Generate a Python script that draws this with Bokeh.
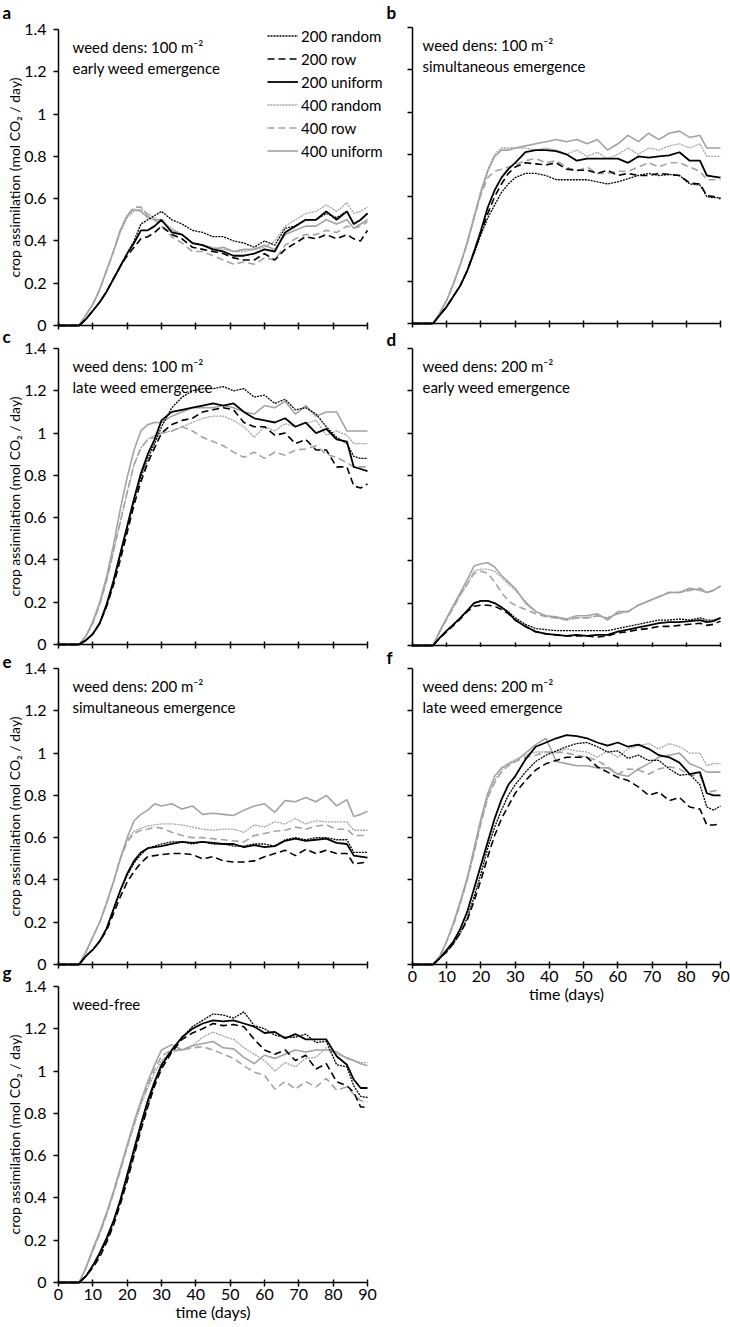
import math
from bokeh.plotting import figure
from bokeh.models import Range1d, FixedTicker, Label, Legend, LegendItem
from bokeh.layouts import column, row
from bokeh.embed import file_html
from bokeh.resources import INLINE

# ---------------- data ----------------
DAYS = [0, 6, 8, 10, 12, 14, 16, 18, 20, 22, 24, 26, 28, 30, 33, 36, 39, 42, 45,
        48, 51, 54, 57, 60, 63, 66, 69, 72, 75, 78, 81, 84, 86, 88, 90]
SERIES = ["200 random", "200 row", "200 uniform", "400 random", "400 row", "400 uniform"]
X_TICKS = [0, 10, 20, 30, 40, 50, 60, 70, 80, 90]
Y_TICKS = [0, 0.2, 0.4, 0.6, 0.8, 1, 1.2, 1.4]
Y_TICK_LABELS = ["0", "0.2", "0.4", "0.6", "0.8", "1", "1.2", "1.4"]

# a: weed dens 100, early weed emergence
A_200_RANDOM = [0, 0, 0.03, 0.07, 0.11, 0.16, 0.22, 0.28, 0.34, 0.40, 0.48, 0.50, 0.52, 0.54, 0.50, 0.48, 0.45, 0.44, 0.42, 0.42, 0.40, 0.39, 0.37, 0.40, 0.38, 0.46, 0.47, 0.50, 0.50, 0.53, 0.51, 0.54, 0.48, 0.50, 0.53]
A_200_ROW = [0, 0, 0.03, 0.07, 0.11, 0.16, 0.22, 0.28, 0.33, 0.37, 0.41, 0.42, 0.44, 0.47, 0.43, 0.41, 0.37, 0.36, 0.35, 0.34, 0.32, 0.31, 0.31, 0.34, 0.31, 0.36, 0.39, 0.42, 0.41, 0.43, 0.41, 0.43, 0.41, 0.40, 0.45]
A_200_UNIFORM = [0, 0, 0.03, 0.07, 0.11, 0.16, 0.22, 0.28, 0.34, 0.39, 0.45, 0.45, 0.47, 0.50, 0.44, 0.43, 0.39, 0.38, 0.36, 0.35, 0.33, 0.33, 0.34, 0.36, 0.35, 0.44, 0.47, 0.50, 0.50, 0.54, 0.50, 0.54, 0.48, 0.50, 0.53]
A_400_RANDOM = [0, 0, 0.05, 0.10, 0.17, 0.26, 0.35, 0.44, 0.51, 0.54, 0.55, 0.53, 0.51, 0.49, 0.46, 0.43, 0.39, 0.38, 0.37, 0.36, 0.35, 0.35, 0.36, 0.37, 0.40, 0.47, 0.50, 0.53, 0.54, 0.57, 0.54, 0.58, 0.53, 0.54, 0.56]
A_400_ROW = [0, 0, 0.05, 0.10, 0.17, 0.26, 0.35, 0.45, 0.52, 0.56, 0.56, 0.52, 0.50, 0.47, 0.42, 0.39, 0.35, 0.35, 0.33, 0.31, 0.29, 0.30, 0.29, 0.32, 0.31, 0.38, 0.41, 0.43, 0.43, 0.45, 0.44, 0.47, 0.46, 0.47, 0.49]
A_400_UNIFORM = [0, 0, 0.05, 0.10, 0.17, 0.26, 0.35, 0.45, 0.52, 0.55, 0.54, 0.51, 0.50, 0.50, 0.45, 0.43, 0.39, 0.38, 0.36, 0.37, 0.35, 0.36, 0.36, 0.38, 0.36, 0.43, 0.45, 0.47, 0.47, 0.50, 0.48, 0.50, 0.46, 0.48, 0.50]

# b: weed dens 100, simultaneous emergence
B_200_RANDOM = [0, 0, 0.04, 0.08, 0.13, 0.18, 0.25, 0.33, 0.42, 0.50, 0.56, 0.62, 0.66, 0.69, 0.71, 0.71, 0.70, 0.68, 0.68, 0.68, 0.68, 0.67, 0.66, 0.67, 0.685, 0.70, 0.71, 0.70, 0.705, 0.70, 0.66, 0.655, 0.60, 0.595, 0.595]
B_200_ROW = [0, 0, 0.04, 0.08, 0.13, 0.18, 0.25, 0.34, 0.43, 0.52, 0.60, 0.66, 0.71, 0.74, 0.76, 0.755, 0.75, 0.76, 0.73, 0.725, 0.725, 0.71, 0.725, 0.70, 0.71, 0.70, 0.70, 0.71, 0.705, 0.70, 0.665, 0.66, 0.605, 0.60, 0.59]
B_200_UNIFORM = [0, 0, 0.04, 0.08, 0.13, 0.18, 0.25, 0.34, 0.44, 0.55, 0.63, 0.69, 0.73, 0.76, 0.81, 0.82, 0.82, 0.815, 0.80, 0.77, 0.78, 0.78, 0.78, 0.78, 0.76, 0.79, 0.785, 0.79, 0.795, 0.81, 0.77, 0.77, 0.70, 0.695, 0.69]
B_400_RANDOM = [0, 0, 0.05, 0.11, 0.19, 0.28, 0.39, 0.51, 0.63, 0.73, 0.80, 0.83, 0.83, 0.83, 0.83, 0.82, 0.83, 0.82, 0.80, 0.82, 0.79, 0.81, 0.78, 0.80, 0.83, 0.80, 0.83, 0.82, 0.84, 0.85, 0.83, 0.85, 0.79, 0.79, 0.79]
B_400_ROW = [0, 0, 0.05, 0.11, 0.19, 0.28, 0.38, 0.50, 0.61, 0.69, 0.72, 0.73, 0.74, 0.75, 0.77, 0.78, 0.76, 0.77, 0.74, 0.72, 0.74, 0.71, 0.71, 0.72, 0.72, 0.74, 0.76, 0.74, 0.76, 0.76, 0.74, 0.72, 0.68, 0.68, 0.68]
B_400_UNIFORM = [0, 0, 0.05, 0.11, 0.19, 0.28, 0.38, 0.50, 0.62, 0.72, 0.79, 0.82, 0.82, 0.83, 0.84, 0.85, 0.86, 0.87, 0.86, 0.87, 0.85, 0.87, 0.82, 0.85, 0.89, 0.86, 0.90, 0.87, 0.90, 0.91, 0.88, 0.89, 0.83, 0.83, 0.83]

# c: weed dens 100, late weed emergence
C_200_RANDOM = [0, 0, 0.02, 0.05, 0.10, 0.18, 0.29, 0.42, 0.55, 0.68, 0.79, 0.88, 0.95, 1.03, 1.12, 1.17, 1.20, 1.21, 1.21, 1.22, 1.20, 1.21, 1.17, 1.18, 1.14, 1.16, 1.11, 1.12, 1.09, 1.03, 0.98, 0.95, 0.89, 0.88, 0.88]
C_200_ROW = [0, 0, 0.02, 0.05, 0.10, 0.18, 0.28, 0.40, 0.53, 0.66, 0.77, 0.86, 0.93, 1.00, 1.04, 1.06, 1.07, 1.10, 1.11, 1.12, 1.11, 1.05, 1.03, 1.03, 0.99, 1.00, 0.95, 0.97, 0.92, 0.92, 0.84, 0.84, 0.75, 0.74, 0.76]
C_200_UNIFORM = [0, 0, 0.02, 0.05, 0.10, 0.19, 0.30, 0.43, 0.56, 0.69, 0.81, 0.90, 0.97, 1.06, 1.10, 1.11, 1.12, 1.13, 1.14, 1.13, 1.14, 1.10, 1.07, 1.06, 1.05, 1.07, 1.03, 1.05, 1.00, 1.02, 0.97, 0.96, 0.84, 0.83, 0.82]
C_400_RANDOM = [0, 0, 0.04, 0.10, 0.19, 0.30, 0.44, 0.58, 0.72, 0.85, 0.93, 0.97, 0.99, 1.00, 1.01, 1.03, 1.05, 1.07, 1.08, 1.08, 1.06, 1.03, 0.98, 1.03, 1.01, 1.045, 1.03, 1.045, 1.06, 0.99, 1.01, 0.99, 0.95, 0.95, 0.95]
C_400_ROW = [0, 0, 0.04, 0.10, 0.19, 0.30, 0.44, 0.58, 0.72, 0.85, 0.93, 0.97, 0.98, 1.00, 1.01, 1.03, 1.01, 0.98, 0.96, 0.94, 0.91, 0.885, 0.91, 0.88, 0.91, 0.895, 0.92, 0.925, 0.94, 0.90, 0.885, 0.86, 0.84, 0.84, 0.84]
C_400_UNIFORM = [0, 0, 0.04, 0.11, 0.20, 0.32, 0.47, 0.64, 0.79, 0.92, 1.01, 1.04, 1.05, 1.05, 1.08, 1.10, 1.12, 1.12, 1.12, 1.13, 1.12, 1.10, 1.09, 1.13, 1.12, 1.15, 1.09, 1.13, 1.08, 1.10, 1.10, 1.01, 1.01, 1.01, 1.01]

# d: weed dens 200, early weed emergence
D_200_RANDOM = [0, 0, 0.037, 0.07, 0.10, 0.13, 0.165, 0.20, 0.21, 0.21, 0.20, 0.18, 0.16, 0.13, 0.10, 0.08, 0.075, 0.07, 0.07, 0.07, 0.07, 0.07, 0.07, 0.08, 0.09, 0.10, 0.11, 0.12, 0.12, 0.125, 0.12, 0.13, 0.12, 0.12, 0.13]
D_200_ROW = [0, 0, 0.035, 0.065, 0.095, 0.125, 0.16, 0.185, 0.19, 0.19, 0.185, 0.17, 0.15, 0.12, 0.09, 0.065, 0.055, 0.05, 0.045, 0.045, 0.045, 0.04, 0.045, 0.06, 0.065, 0.075, 0.08, 0.09, 0.09, 0.095, 0.10, 0.105, 0.095, 0.10, 0.115]
D_200_UNIFORM = [0, 0, 0.037, 0.07, 0.10, 0.13, 0.165, 0.20, 0.21, 0.21, 0.20, 0.18, 0.155, 0.12, 0.09, 0.065, 0.055, 0.05, 0.045, 0.05, 0.045, 0.05, 0.05, 0.065, 0.075, 0.085, 0.095, 0.105, 0.11, 0.11, 0.115, 0.12, 0.11, 0.115, 0.13]
D_400_RANDOM = [0, 0, 0.065, 0.125, 0.18, 0.24, 0.29, 0.35, 0.36, 0.36, 0.35, 0.32, 0.29, 0.26, 0.21, 0.16, 0.14, 0.13, 0.12, 0.13, 0.13, 0.14, 0.13, 0.15, 0.16, 0.19, 0.21, 0.23, 0.25, 0.25, 0.26, 0.27, 0.25, 0.26, 0.28]
D_400_ROW = [0, 0, 0.065, 0.125, 0.18, 0.24, 0.29, 0.34, 0.35, 0.34, 0.30, 0.25, 0.21, 0.19, 0.17, 0.15, 0.135, 0.13, 0.12, 0.13, 0.13, 0.14, 0.13, 0.15, 0.16, 0.19, 0.21, 0.23, 0.25, 0.25, 0.26, 0.27, 0.25, 0.26, 0.28]
D_400_UNIFORM = [0, 0, 0.07, 0.13, 0.19, 0.25, 0.31, 0.375, 0.385, 0.39, 0.37, 0.33, 0.30, 0.27, 0.20, 0.16, 0.14, 0.135, 0.125, 0.14, 0.14, 0.15, 0.12, 0.16, 0.16, 0.19, 0.21, 0.23, 0.25, 0.25, 0.27, 0.26, 0.25, 0.26, 0.28]

# e: weed dens 200, simultaneous emergence
E_200_RANDOM = [0, 0, 0.04, 0.07, 0.11, 0.17, 0.26, 0.35, 0.42, 0.48, 0.52, 0.55, 0.56, 0.57, 0.58, 0.58, 0.57, 0.58, 0.57, 0.57, 0.56, 0.56, 0.57, 0.57, 0.56, 0.59, 0.60, 0.59, 0.60, 0.60, 0.59, 0.59, 0.53, 0.53, 0.53]
E_200_ROW = [0, 0, 0.04, 0.07, 0.11, 0.16, 0.24, 0.32, 0.39, 0.44, 0.48, 0.51, 0.515, 0.52, 0.525, 0.525, 0.52, 0.50, 0.51, 0.49, 0.485, 0.485, 0.49, 0.51, 0.525, 0.54, 0.515, 0.545, 0.525, 0.54, 0.525, 0.525, 0.475, 0.48, 0.485]
E_200_UNIFORM = [0, 0, 0.04, 0.07, 0.11, 0.17, 0.26, 0.35, 0.43, 0.49, 0.53, 0.55, 0.555, 0.56, 0.57, 0.58, 0.575, 0.58, 0.575, 0.57, 0.57, 0.555, 0.565, 0.555, 0.56, 0.585, 0.595, 0.585, 0.59, 0.595, 0.575, 0.57, 0.515, 0.51, 0.505]
E_400_RANDOM = [0, 0, 0.06, 0.13, 0.20, 0.29, 0.39, 0.50, 0.59, 0.63, 0.645, 0.655, 0.66, 0.665, 0.665, 0.66, 0.65, 0.64, 0.635, 0.64, 0.64, 0.625, 0.66, 0.65, 0.675, 0.665, 0.69, 0.665, 0.68, 0.675, 0.675, 0.675, 0.635, 0.635, 0.635]
E_400_ROW = [0, 0, 0.06, 0.13, 0.20, 0.29, 0.39, 0.50, 0.58, 0.62, 0.635, 0.64, 0.65, 0.645, 0.625, 0.61, 0.60, 0.60, 0.595, 0.59, 0.585, 0.58, 0.61, 0.62, 0.63, 0.635, 0.65, 0.64, 0.655, 0.66, 0.64, 0.64, 0.61, 0.61, 0.61]
E_400_UNIFORM = [0, 0, 0.06, 0.13, 0.20, 0.29, 0.39, 0.50, 0.60, 0.68, 0.71, 0.73, 0.76, 0.75, 0.76, 0.735, 0.75, 0.71, 0.715, 0.71, 0.705, 0.73, 0.75, 0.76, 0.72, 0.775, 0.77, 0.79, 0.77, 0.80, 0.75, 0.78, 0.70, 0.71, 0.725]

# f: weed dens 200, late weed emergence
F_200_RANDOM = [0, 0, 0.03, 0.06, 0.10, 0.15, 0.22, 0.32, 0.43, 0.55, 0.65, 0.73, 0.80, 0.85, 0.91, 0.96, 0.99, 1.01, 1.03, 1.045, 1.05, 1.03, 1.005, 1.01, 0.975, 0.99, 0.965, 0.965, 0.925, 0.895, 0.90, 0.85, 0.745, 0.73, 0.75]
F_200_ROW = [0, 0, 0.03, 0.06, 0.10, 0.15, 0.21, 0.30, 0.40, 0.51, 0.61, 0.69, 0.75, 0.81, 0.87, 0.92, 0.95, 0.965, 0.98, 0.98, 0.98, 0.935, 0.91, 0.885, 0.87, 0.84, 0.80, 0.815, 0.775, 0.79, 0.745, 0.735, 0.66, 0.66, 0.665]
F_200_UNIFORM = [0, 0, 0.03, 0.07, 0.11, 0.17, 0.25, 0.36, 0.47, 0.58, 0.69, 0.78, 0.85, 0.89, 0.97, 1.03, 1.05, 1.07, 1.085, 1.08, 1.07, 1.05, 1.035, 1.05, 1.03, 1.04, 1.02, 0.99, 0.98, 0.955, 0.90, 0.91, 0.81, 0.80, 0.80]
F_400_RANDOM = [0, 0, 0.04, 0.11, 0.19, 0.29, 0.40, 0.53, 0.67, 0.79, 0.87, 0.92, 0.95, 0.97, 0.99, 1.005, 1.005, 1.0, 1.02, 1.01, 1.005, 0.98, 1.01, 0.98, 1.02, 1.035, 1.045, 1.02, 1.045, 1.03, 1.0, 1.0, 0.94, 0.95, 0.95]
F_400_ROW = [0, 0, 0.04, 0.11, 0.19, 0.29, 0.40, 0.53, 0.67, 0.79, 0.86, 0.91, 0.94, 0.96, 0.98, 0.99, 1.005, 1.005, 1.0, 0.99, 0.98, 0.965, 0.935, 0.90, 0.925, 0.92, 0.90, 0.925, 0.935, 0.925, 0.895, 0.895, 0.815, 0.82, 0.83]
F_400_UNIFORM = [0, 0, 0.04, 0.11, 0.20, 0.30, 0.41, 0.55, 0.69, 0.81, 0.89, 0.93, 0.95, 0.96, 1.0, 1.04, 1.07, 0.96, 0.95, 0.94, 0.94, 0.93, 0.93, 0.90, 0.89, 0.925, 0.95, 0.98, 0.99, 1.0, 0.95, 0.93, 0.91, 0.91, 0.91]

# g: weed-free
G_200_RANDOM = [0, 0, 0.03, 0.08, 0.13, 0.20, 0.28, 0.38, 0.49, 0.61, 0.73, 0.84, 0.94, 1.02, 1.10, 1.16, 1.21, 1.24, 1.27, 1.265, 1.25, 1.28, 1.215, 1.20, 1.17, 1.16, 1.16, 1.175, 1.135, 1.14, 1.03, 1.02, 0.93, 0.88, 0.875]
G_200_ROW = [0, 0, 0.03, 0.07, 0.12, 0.19, 0.27, 0.37, 0.48, 0.60, 0.72, 0.83, 0.93, 1.01, 1.09, 1.15, 1.18, 1.20, 1.225, 1.215, 1.22, 1.21, 1.15, 1.10, 1.08, 1.10, 1.05, 1.075, 1.01, 1.035, 0.95, 0.93, 0.90, 0.83, 0.83]
G_200_UNIFORM = [0, 0, 0.03, 0.08, 0.14, 0.21, 0.29, 0.39, 0.51, 0.63, 0.75, 0.86, 0.95, 1.03, 1.10, 1.16, 1.20, 1.225, 1.24, 1.235, 1.24, 1.225, 1.21, 1.18, 1.185, 1.155, 1.175, 1.15, 1.15, 1.15, 1.07, 1.03, 0.96, 0.92, 0.92]
G_400_RANDOM = [0, 0, 0.07, 0.15, 0.23, 0.32, 0.42, 0.53, 0.64, 0.74, 0.84, 0.92, 0.99, 1.05, 1.09, 1.10, 1.12, 1.16, 1.185, 1.165, 1.15, 1.11, 1.08, 1.05, 1.0, 1.04, 1.02, 1.06, 1.065, 1.11, 1.08, 1.065, 1.05, 1.04, 1.04]
G_400_ROW = [0, 0, 0.07, 0.15, 0.23, 0.32, 0.42, 0.53, 0.64, 0.75, 0.85, 0.93, 1.01, 1.07, 1.10, 1.10, 1.11, 1.115, 1.10, 1.08, 1.06, 1.025, 0.995, 0.98, 0.915, 0.95, 0.915, 0.95, 0.925, 0.965, 0.91, 0.925, 0.89, 0.86, 0.855]
G_400_UNIFORM = [0, 0, 0.07, 0.16, 0.24, 0.33, 0.43, 0.54, 0.65, 0.76, 0.86, 0.95, 1.03, 1.10, 1.125, 1.10, 1.12, 1.13, 1.14, 1.11, 1.105, 1.065, 1.035, 1.075, 1.06, 1.08, 1.10, 1.09, 1.10, 1.10, 1.09, 1.06, 1.05, 1.035, 1.025]

PANELS = {
    "a": [A_200_RANDOM, A_200_ROW, A_200_UNIFORM, A_400_RANDOM, A_400_ROW, A_400_UNIFORM],
    "b": [B_200_RANDOM, B_200_ROW, B_200_UNIFORM, B_400_RANDOM, B_400_ROW, B_400_UNIFORM],
    "c": [C_200_RANDOM, C_200_ROW, C_200_UNIFORM, C_400_RANDOM, C_400_ROW, C_400_UNIFORM],
    "d": [D_200_RANDOM, D_200_ROW, D_200_UNIFORM, D_400_RANDOM, D_400_ROW, D_400_UNIFORM],
    "e": [E_200_RANDOM, E_200_ROW, E_200_UNIFORM, E_400_RANDOM, E_400_ROW, E_400_UNIFORM],
    "f": [F_200_RANDOM, F_200_ROW, F_200_UNIFORM, F_400_RANDOM, F_400_ROW, F_400_UNIFORM],
    "g": [G_200_RANDOM, G_200_ROW, G_200_UNIFORM, G_400_RANDOM, G_400_ROW, G_400_UNIFORM],
}
NOTES = {
    "a": ["weed dens: 100 m\u207b\u00b2", "early weed emergence"],
    "b": ["weed dens: 100 m\u207b\u00b2", "simultaneous emergence"],
    "c": ["weed dens: 100 m\u207b\u00b2", "late weed emergence"],
    "d": ["weed dens: 200 m\u207b\u00b2", "early weed emergence"],
    "e": ["weed dens: 200 m\u207b\u00b2", "simultaneous emergence"],
    "f": ["weed dens: 200 m\u207b\u00b2", "late weed emergence"],
    "g": ["weed-free"],
}
Y_TITLE = "crop assimilation (mol CO\u2082 / day)"
X_TITLE = "time (days)"

# ---------------- style / layout ----------------
FONT = "Lato"
GRAY = "#a3a3a3"
STYLE = [
    dict(line_color="black", line_dash="2 1", line_width=1.3),
    dict(line_color="black", line_dash="7 4", line_width=1.6),
    dict(line_color="black", line_dash="solid", line_width=1.8),
    dict(line_color=GRAY, line_dash="2 1", line_width=1.3),
    dict(line_color=GRAY, line_dash="7 4", line_width=1.6),
    dict(line_color=GRAY, line_dash="solid", line_width=1.6),
]

PAGE_H = 1327
SIDE_W = 23          # narrow strip with panel letters and y titles
LEFT = dict(x0=SIDE_W, x1=383, px0=58, px90=367)
RIGHT = dict(x0=383, x1=730, px0=412, px90=720)
ROWS = {
    "a": dict(y0=0, y1=336, py14=29, py0=325),
    "c": dict(y0=336, y1=656, py14=348, py0=644),
    "e": dict(y0=656, y1=975, py14=668, py0=964),
    "g": dict(y0=975, y1=PAGE_H, py14=986, py0=1282),
    "b": dict(y0=0, y1=328, py14=27, py0=323),
    "d": dict(y0=328, y1=647, py14=348, py0=645),
    "f": dict(y0=647, y1=1005, py14=668, py0=964),
}
SIDE_LETTERS = [("a", 2, 12), ("c", 2, 336), ("e", 2, 661), ("g", 2, 972)]
RIGHT_LETTERS = {"b": (386, 12), "d": (386, 339), "f": (386, 657)}
TICK_FONT = "16px"


def text_label(x, y, text, size, **kw):
    return Label(x=x, y=y, x_units="screen", y_units="screen", text=text,
                 text_font=FONT, text_font_size=size, text_color="black", **kw)


def make_panel(key, col, left_col, x_labels):
    g = dict(col)
    g.update(ROWS[key])
    x0, x1, y0, y1 = g["x0"], g["x1"], g["y0"], g["y1"]
    px0, px90, py14, py0 = g["px0"], g["px90"], g["py14"], g["py0"]
    kx = 90.0 / (px90 - px0)
    ky = 1.4 / (py0 - py14)
    xr = Range1d(-(px0 - x0) * kx, 90 + (x1 - px90) * kx)
    yr = Range1d(-(y1 - py0) * ky, 1.4 + (py14 - y0) * ky)
    p = figure(width=x1 - x0, height=y1 - y0, x_range=xr, y_range=yr,
               output_backend="svg", toolbar_location=None,
               min_border_left=0, min_border_right=0, min_border_top=0, min_border_bottom=0)
    p.xgrid.visible = False
    p.ygrid.visible = False
    p.outline_line_color = None
    p.background_fill_color = "white"
    p.border_fill_color = "white"

    def sx(x):
        return x - x0

    def sy(y):
        return y1 - y

    for ax in (p.xaxis[0], p.yaxis[0]):
        ax.fixed_location = 0
        ax.axis_line_color = "black"
        ax.axis_line_width = 1.5
        ax.major_tick_line_color = "black"
        ax.major_tick_line_width = 1.5
        ax.minor_tick_line_color = None
        ax.major_label_text_font = FONT
        ax.major_label_text_color = "black"
        ax.major_label_text_font_size = TICK_FONT

    xa = p.xaxis[0]
    xa.bounds = (0, 90)
    xa.ticker = FixedTicker(ticks=X_TICKS)
    xa.major_tick_in = 3
    xa.major_tick_out = 4
    xa.major_label_standoff = 2
    if not x_labels:
        xa.major_label_overrides = {t: "" for t in X_TICKS}

    ya = p.yaxis[0]
    ya.bounds = (0, 1.4)
    ya.ticker = FixedTicker(ticks=Y_TICKS)
    ya.major_tick_in = 0
    ya.major_tick_out = 5
    ya.major_label_standoff = 7
    if left_col:
        ya.major_label_overrides = {t: s for t, s in zip(Y_TICKS, Y_TICK_LABELS)}
    else:
        ya.major_label_overrides = {t: "" for t in Y_TICKS}

    rmap = {}
    for i in [3, 4, 5, 0, 1, 2]:
        rmap[i] = p.line(DAYS, PANELS[key][i], **STYLE[i])
    rs = [rmap[i] for i in range(6)]

    for j, txt in enumerate(NOTES[key]):
        p.add_layout(text_label(sx(px0 + (14 if left_col else 10)), sy(py14 + 17 + 21 * j), txt,
                                "15px", text_baseline="middle", text_align="left"))
    if x_labels:
        p.add_layout(text_label(sx((px0 + px90) / 2), sy(py0 + 29), X_TITLE, "16px",
                                text_align="center", text_baseline="middle"))
    if key in RIGHT_LETTERS:
        lx, lyc = RIGHT_LETTERS[key]
        p.add_layout(text_label(sx(lx), sy(lyc), key, "17px", text_font_style="bold",
                                text_align="left", text_baseline="middle"))
    return p, rs, sx, sy


pa, rs_a, sxa, sya = make_panel("a", LEFT, True, False)
pc, _, _, _ = make_panel("c", LEFT, True, False)
pe, _, _, _ = make_panel("e", LEFT, True, False)
pg, _, _, _ = make_panel("g", LEFT, True, True)
pb, _, _, _ = make_panel("b", RIGHT, False, False)
pd, _, _, _ = make_panel("d", RIGHT, False, False)
pf, _, _, _ = make_panel("f", RIGHT, False, True)

# legend of panel a
ROW_H = 23
legend = Legend(items=[LegendItem(label=SERIES[i], renderers=[rs_a[i]]) for i in range(6)],
                location=(sxa(267), sya(24 + 6 * ROW_H)), orientation="vertical",
                label_text_font=FONT, label_text_font_size="15px", label_text_color="black",
                glyph_width=31, glyph_height=ROW_H, label_height=ROW_H, label_standoff=3,
                spacing=0, padding=0, margin=0,
                border_line_color=None, background_fill_alpha=0)
pa.add_layout(legend, "center")

# narrow strip on the left: panel letters a, c, e, g and the y-axis titles
side = figure(width=SIDE_W, height=PAGE_H, x_range=Range1d(0, SIDE_W), y_range=Range1d(0, PAGE_H),
              output_backend="svg", toolbar_location=None,
              min_border_left=0, min_border_right=0, min_border_top=0, min_border_bottom=0)
side.axis.visible = False
side.grid.visible = False
side.outline_line_color = None
for letter, lx, lyc in SIDE_LETTERS:
    side.add_layout(text_label(lx, PAGE_H - lyc, letter, "17px", text_font_style="bold",
                               text_align="left", text_baseline="middle"))
for key in ["a", "c", "e", "g"]:
    r = ROWS[key]
    side.add_layout(text_label(14, PAGE_H - (r["py14"] + r["py0"]) / 2, Y_TITLE, "14px",
                               angle=math.pi / 2, text_align="center", text_baseline="middle"))

layout = row(side, column(pa, pc, pe, pg), column(pb, pd, pf))

open("out.html", "w").write(file_html(layout, INLINE))
